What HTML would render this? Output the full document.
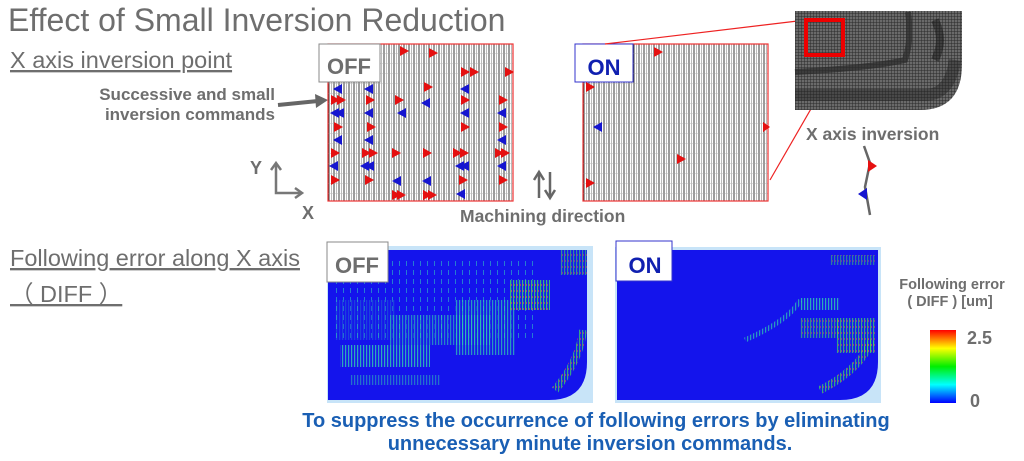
<!DOCTYPE html>
<html><head><meta charset="utf-8"><style>
html,body{margin:0;padding:0;background:#fff;}
svg{display:block;font-family:"Liberation Sans",sans-serif;}
</style></head><body>
<svg width="1024" height="461" viewBox="0 0 1024 461" xmlns="http://www.w3.org/2000/svg">
<defs>
<pattern id="grid" x="328" y="44" width="5" height="10" patternUnits="userSpaceOnUse">
<rect width="5" height="10" fill="#fff"/>
<line x1="1" y1="0" x2="1" y2="10" stroke="#222" stroke-width="0.9"/>
<line x1="3.5" y1="0" x2="3.5" y2="10" stroke="#777" stroke-width="0.5"/>
<line x1="0" y1="9.5" x2="5" y2="9.5" stroke="#aaa" stroke-width="0.4" stroke-dasharray="1,1"/>
</pattern>
<pattern id="mesh" width="3" height="3" patternUnits="userSpaceOnUse">
<rect width="3" height="3" fill="#6a6a6a"/>
<line x1="0" y1="0" x2="0" y2="3" stroke="#1a1a1a" stroke-width="0.8"/>
<line x1="0" y1="1.5" x2="3" y2="1.5" stroke="#2a2a2a" stroke-width="0.5"/>
</pattern>
<pattern id="streak" width="3" height="6" patternUnits="userSpaceOnUse">
<rect width="3" height="6" fill="#1a1ae8"/>
<rect x="0" width="1.2" height="6" fill="#2fd0b0"/>
</pattern>
<pattern id="streak2" width="3" height="6" patternUnits="userSpaceOnUse">
<rect width="3" height="6" fill="#1a1ae8"/>
<rect x="0" width="1.2" height="6" fill="#40e060"/>
<rect x="1.2" y="2" width="0.8" height="2" fill="#e05050"/>
</pattern>
<pattern id="sparse" width="7" height="9" patternUnits="userSpaceOnUse">
<rect width="7" height="9" fill="#1414ec"/>
<rect x="0" y="0" width="1" height="5" fill="#30c0c0"/>
</pattern>
<linearGradient id="cbar" x1="0" y1="0" x2="0" y2="1">
<stop offset="0" stop-color="#f00"/><stop offset="0.25" stop-color="#ff0"/>
<stop offset="0.5" stop-color="#0e0"/><stop offset="0.75" stop-color="#0ff"/>
<stop offset="1" stop-color="#00f"/></linearGradient>
</defs>

<text x="8" y="31" font-size="32" fill="#6e6e6e">Effect of Small Inversion Reduction</text>
<text x="10" y="68" font-size="23.5" fill="#6e6e6e" text-decoration="underline">X axis inversion point</text>
<text x="275" y="100" font-size="17" font-weight="bold" fill="#6e6e6e" text-anchor="end">Successive and small</text>
<text x="275" y="120" font-size="17" font-weight="bold" fill="#6e6e6e" text-anchor="end">inversion commands</text>
<line x1="278" y1="105" x2="318" y2="101" stroke="#666" stroke-width="4"/>
<polygon points="328,100 315,94 316,108" fill="#666"/>

<text x="250" y="174" font-size="18" font-weight="bold" fill="#6e6e6e">Y</text>
<text x="302" y="219" font-size="18" font-weight="bold" fill="#6e6e6e">X</text>
<polyline points="276,164 276,193 300,193" fill="none" stroke="#777" stroke-width="2.5"/>
<polyline points="271,170 276,163 281,170" fill="none" stroke="#777" stroke-width="2.5"/>
<polyline points="295,188 302,193 295,198" fill="none" stroke="#777" stroke-width="2.5"/>

<rect x="328" y="44" width="185" height="157" fill="url(#grid)" stroke="#e33" stroke-width="1.2"/>
<rect x="319" y="44" width="61" height="38" fill="#fff" stroke="#888" stroke-width="1"/>
<text x="349" y="74" font-size="22" font-weight="bold" fill="#6e6e6e" text-anchor="middle">OFF</text>
<g fill="#e51010">
<polygon points="400,46 400,56 409,51"/><polygon points="429,48 429,58 438,53"/>
<polygon points="461,67 461,77 470,72"/><polygon points="470,67 470,77 479,72"/><polygon points="505,67 505,77 514,72"/>
<polygon points="424,82 424,92 433,87"/>
<polygon points="331,95 331,105 340,100"/><polygon points="337,95 337,105 346,100"/><polygon points="366,95 366,105 375,100"/><polygon points="395,95 395,105 404,100"/><polygon points="461,95 461,105 470,100"/><polygon points="499,95 499,105 508,100"/>
<polygon points="334,122 334,132 343,127"/><polygon points="367,122 367,132 376,127"/><polygon points="461,122 461,132 470,127"/><polygon points="499,122 499,132 508,127"/>
<polygon points="331,148 331,158 340,153"/><polygon points="362,148 362,158 371,153"/><polygon points="369,148 369,158 378,153"/><polygon points="392,148 392,158 401,153"/><polygon points="423,148 423,158 432,153"/><polygon points="453,148 453,158 462,153"/><polygon points="460,148 460,158 469,153"/><polygon points="495,148 495,158 504,153"/><polygon points="501,148 501,158 510,153"/>
<polygon points="331,175 331,185 340,180"/><polygon points="365,175 365,185 374,180"/><polygon points="459,175 459,185 468,180"/><polygon points="499,175 499,185 508,180"/>
<polygon points="392,190 392,200 401,195"/><polygon points="397,190 397,200 406,195"/><polygon points="423,190 423,200 432,195"/><polygon points="428,190 428,200 437,195"/>
</g>
<g fill="#1515d0">
<polygon points="342,84 342,94 333,89"/><polygon points="373,84 373,94 364,89"/><polygon points="469,84 469,94 460,89"/>
<polygon points="430,98 430,108 421,103"/>
<polygon points="339,108 339,118 330,113"/><polygon points="344,108 344,118 335,113"/><polygon points="373,108 373,118 364,113"/><polygon points="406,108 406,118 397,113"/><polygon points="469,108 469,118 460,113"/><polygon points="506,108 506,118 497,113"/>
<polygon points="342,135 342,145 333,140"/><polygon points="373,135 373,145 364,140"/><polygon points="506,135 506,145 497,140"/>
<polygon points="338,161 338,171 329,166"/><polygon points="369,161 369,171 360,166"/><polygon points="374,161 374,171 365,166"/><polygon points="464,161 464,171 455,166"/><polygon points="469,161 469,171 460,166"/><polygon points="506,161 506,171 497,166"/>
<polygon points="401,176 401,186 392,181"/><polygon points="431,176 431,186 422,181"/>
<polygon points="465,189 465,199 456,194"/>
</g>

<g stroke="#666" stroke-width="2.5" fill="none">
<line x1="539" y1="173" x2="539" y2="198"/><polyline points="534,180 539,172 544,180"/>
<line x1="550" y1="172" x2="550" y2="197"/><polyline points="545,190 550,198 555,190"/>
</g>
<text x="460" y="222" font-size="17.5" font-weight="bold" fill="#6e6e6e">Machining direction</text>

<rect x="583" y="44" width="185" height="157" fill="url(#grid)" stroke="#e33" stroke-width="1.2"/>
<rect x="575" y="44" width="58" height="38" fill="#fff" stroke="#3333cc" stroke-width="1"/>
<text x="604" y="75" font-size="22" font-weight="bold" fill="#1020b0" text-anchor="middle">ON</text>
<g fill="#e51010">
<polygon points="654,47 654,57 663,52"/><polygon points="586,82 586,92 595,87"/>
<polygon points="677,154 677,164 686,159"/><polygon points="586,178 586,188 595,183"/>
<polygon points="763,122 763,132 770,127"/>
</g>
<polygon points="602,122 602,132 593,127" fill="#1515d0"/>

<line x1="605" y1="44" x2="806" y2="20" stroke="#e22" stroke-width="1.2"/>
<line x1="842" y1="55" x2="770" y2="180" stroke="#e22" stroke-width="1.2"/>

<path d="M795,11 H962 V64 Q962,110 920,110 H795 Z" fill="url(#mesh)"/>
<path d="M795,72 Q870,68 905,60 Q912,40 908,12" fill="none" stroke="#2a2a2a" stroke-width="6" opacity="0.7"/>
<path d="M795,95 H925 Q950,95 955,60" fill="none" stroke="#222" stroke-width="12" opacity="0.45"/>
<path d="M935,20 Q945,40 935,60" fill="none" stroke="#111" stroke-width="8" opacity="0.5"/>
<rect x="806" y="20" width="37" height="35" fill="none" stroke="#e00" stroke-width="4"/>
<text x="806" y="140" font-size="17.5" font-weight="bold" fill="#6e6e6e">X axis inversion</text>
<polyline points="864,146 870,163 865,187 870,215" fill="none" stroke="#666" stroke-width="2.5"/>
<polygon points="868,160 868,172 877,166" fill="#e51010"/>
<polygon points="867,188 867,200 858,194" fill="#1515d0"/>

<text x="10" y="266" font-size="23.5" fill="#6e6e6e" text-decoration="underline">Following error along X axis</text>
<text x="10" y="302" font-size="23.5" fill="#6e6e6e" text-decoration="underline">（ DIFF ）</text>

<rect x="327" y="246" width="266" height="157" fill="#c8e4f8"/>
<path d="M328,250 H587 V362 Q587,400 549,400 H328 Z" fill="#1414ec"/>
<rect x="335" y="260" width="200" height="80" fill="url(#sparse)" opacity="0.6"/>
<rect x="340" y="345" width="90" height="22" fill="url(#streak)" opacity="0.8"/>
<rect x="390" y="315" width="100" height="30" fill="url(#streak)" opacity="0.6"/>
<rect x="455" y="300" width="60" height="55" fill="url(#streak)" opacity="0.7"/>
<rect x="510" y="280" width="40" height="30" fill="url(#streak2)" opacity="0.8"/>
<rect x="560" y="250" width="27" height="25" fill="url(#streak2)" opacity="0.6"/>
<rect x="350" y="375" width="90" height="10" fill="url(#streak)" opacity="0.5"/>
<rect x="335" y="300" width="60" height="40" fill="url(#streak)" opacity="0.25"/>
<path d="M555,390 Q580,360 583,330" fill="none" stroke="url(#streak2)" stroke-width="8" opacity="0.7"/>
<rect x="327" y="242" width="61" height="40" fill="#fff" stroke="#888"/>
<text x="357" y="273" font-size="22" font-weight="bold" fill="#6e6e6e" text-anchor="middle">OFF</text>

<rect x="615" y="247" width="266" height="156" fill="#c8e4f8"/>
<path d="M617,250 H878 V362 Q878,400 840,400 H617 Z" fill="#1414ec"/>
<rect x="800" y="298" width="40" height="12" fill="url(#streak)" opacity="0.8"/>
<rect x="800" y="318" width="40" height="20" fill="url(#streak2)" opacity="0.6"/>
<rect x="836" y="318" width="40" height="35" fill="url(#streak2)" opacity="0.7"/>
<path d="M745,340 Q790,320 800,300" fill="none" stroke="url(#streak)" stroke-width="5" opacity="0.7"/>
<path d="M820,390 Q860,370 872,340" fill="none" stroke="url(#streak2)" stroke-width="8" opacity="0.7"/>
<rect x="830" y="255" width="45" height="10" fill="url(#streak2)" opacity="0.5"/>
<rect x="616" y="241" width="56" height="40" fill="#fff" stroke="#3333cc"/>
<text x="645" y="273" font-size="22" font-weight="bold" fill="#1020b0" text-anchor="middle">ON</text>

<text x="952" y="289" font-size="14.5" font-weight="bold" fill="#6e6e6e" text-anchor="middle">Following error</text>
<text x="950" y="306" font-size="14.5" font-weight="bold" fill="#6e6e6e" text-anchor="middle">( DIFF ) [um]</text>
<rect x="930" y="330" width="26" height="73" fill="url(#cbar)"/>
<text x="967" y="344" font-size="18" font-weight="bold" fill="#6e6e6e">2.5</text>
<text x="970" y="407" font-size="18" font-weight="bold" fill="#6e6e6e">0</text>

<text x="596" y="427" font-size="20" font-weight="bold" fill="#1a5fb4" text-anchor="middle">To suppress the occurrence of following errors by eliminating</text>
<text x="590" y="450" font-size="20" font-weight="bold" fill="#1a5fb4" text-anchor="middle">unnecessary minute inversion commands.</text>
</svg>
</body></html>
